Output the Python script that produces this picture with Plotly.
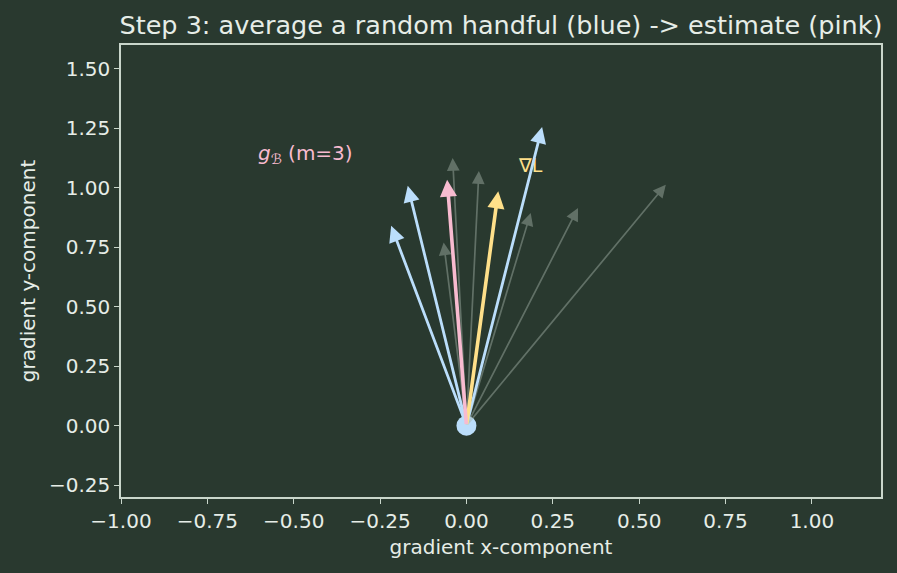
import plotly.graph_objects as go

# sample gradients (all per-example gradients, grey)
grey_x = [-0.040, 0.036, -0.066, 0.186, 0.323, 0.577]
grey_y = [1.125, 1.070, 0.770, 0.894, 0.915, 1.013]
# random handful (blue)
blue_x = [-0.218, -0.170, 0.219]
blue_y = [0.840, 1.008, 1.255]
# full gradient (yellow) and minibatch estimate (pink)
true_grad = [0.092, 0.985]
est_grad = [-0.056, 1.034]

x_ticks = [-1, -0.75, -0.5, -0.25, 0, 0.25, 0.5, 0.75, 1.0]
x_ticklabels = ["−1.00", "−0.75", "−0.50", "−0.25", "0.00", "0.25", "0.50", "0.75", "1.00"]
y_ticks = [-0.25, 0, 0.25, 0.5, 0.75, 1.0, 1.25, 1.5]
y_ticklabels = ["−0.25", "0.00", "0.25", "0.50", "0.75", "1.00", "1.25", "1.50"]

BG = "#29392f"
TXT = "#e6ede7"
SPINE = "#c9d6cb"
BLUE = "#bbdefb"
PINK = "#f8bbd0"
YELLOW = "#ffe08a"
GREY = "rgba(165,180,170,0.45)"

fig = go.Figure()
fig.add_trace(go.Scatter(x=[0], y=[0], mode="markers",
                         marker=dict(size=20, color=BLUE, line=dict(width=0)),
                         showlegend=False, hoverinfo="skip"))

ann = []
# labels first so arrows draw over them
ann.append(dict(x=0.186, y=1.097, xref="x", yref="y", text="∇L", showarrow=False,
                font=dict(color=YELLOW, size=19)))
ann.append(dict(x=-0.467, y=1.14, xref="x", yref="y",
                text="<i>g</i><sub>ℬ</sub> (m=3)", showarrow=False,
                font=dict(color=PINK, size=20)))


def arrow(x, y, color, width, size):
    return dict(x=x, y=y, ax=0, ay=0, xref="x", yref="y", axref="x", ayref="y",
                text="", showarrow=True, arrowhead=2, arrowsize=size,
                arrowwidth=width, arrowcolor=color, standoff=0, startstandoff=0)


for gx, gy in zip(grey_x, grey_y):
    ann.append(arrow(gx, gy, GREY, 1.7, 1.5))
for bx, by in zip(blue_x, blue_y):
    ann.append(arrow(bx, by, BLUE, 2.8, 1.15))
ann.append(arrow(true_grad[0], true_grad[1], YELLOW, 3.6, 0.95))
ann.append(arrow(est_grad[0], est_grad[1], PINK, 3.6, 0.95))

fig.update_layout(
    width=897, height=573,
    paper_bgcolor=BG, plot_bgcolor=BG,
    font=dict(family="DejaVu Sans", color=TXT, size=20),
    margin=dict(l=121, r=16, t=45, b=76),
    title=dict(text="Step 3: average a random handful (blue) -> estimate (pink)",
               x=0.5585, xanchor="center", y=0.956, yanchor="middle",
               font=dict(size=25.5, color=TXT)),
    annotations=ann,
    showlegend=False,
)
axcommon = dict(showgrid=False, zeroline=False, showline=True, linecolor=SPINE,
                linewidth=1.5, mirror=True, ticks="outside", tickcolor=SPINE,
                ticklen=5, tickwidth=1.2, tickfont=dict(size=20, color=TXT))
fig.update_xaxes(range=[-1.0, 1.2], tickvals=x_ticks, ticktext=x_ticklabels,
                 title=dict(text="gradient x-component", font=dict(size=20), standoff=8), **axcommon)
fig.update_yaxes(range=[-0.3, 1.6], tickvals=y_ticks, ticktext=y_ticklabels,
                 title=dict(text="gradient y-component", font=dict(size=20), standoff=8), **axcommon)

fig.write_html("out.html")
